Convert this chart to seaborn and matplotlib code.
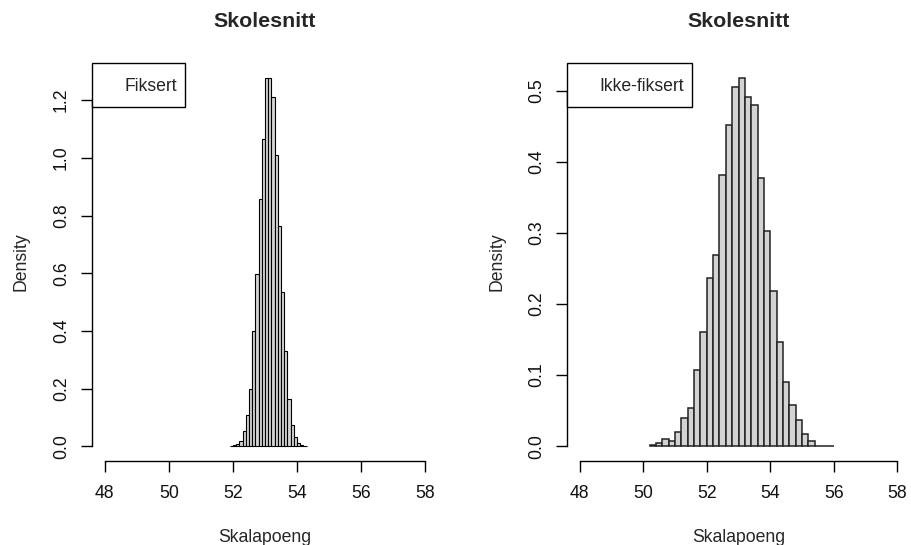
import numpy as np
import pandas as pd
import matplotlib
matplotlib.use("Agg")
import matplotlib.pyplot as plt
from matplotlib.patches import Patch
from matplotlib.ticker import FormatStrFormatter
import seaborn as sns

# ---- data ----
title = "Skolesnitt"
xlabel = "Skalapoeng"
ylabel = "Density"

# Left panel: "Fiksert", bins of width 0.1 from 51.9 to 54.3
left_label = "Fiksert"
left_edges = [51.9, 52.0, 52.1, 52.2, 52.3, 52.4, 52.5, 52.6, 52.7, 52.8, 52.9, 53.0,
              53.1, 53.2, 53.3, 53.4, 53.5, 53.6, 53.7, 53.8, 53.9, 54.0, 54.1, 54.2, 54.3]
left_density = [0.002, 0.004, 0.008, 0.019, 0.054, 0.107, 0.199, 0.398, 0.597, 0.856,
                 1.067, 1.278, 1.278, 1.210, 1.009, 0.763, 0.535, 0.332, 0.164, 0.074,
                 0.031, 0.013, 0.006, 0.002]
left_yticks = [0.0, 0.2, 0.4, 0.6, 0.8, 1.0, 1.2]

# Right panel: "Ikke-fiksert", bins of width 0.2 from 50.2 to 56.0
right_label = "Ikke-fiksert"
right_edges = [50.2, 50.4, 50.6, 50.8, 51.0, 51.2, 51.4, 51.6, 51.8, 52.0, 52.2, 52.4,
               52.6, 52.8, 53.0, 53.2, 53.4, 53.6, 53.8, 54.0, 54.2, 54.4, 54.6, 54.8,
               55.0, 55.2, 55.4, 55.6, 55.8, 56.0]
right_density = [0.002, 0.005, 0.010, 0.0075, 0.020, 0.040, 0.054, 0.107, 0.160, 0.236,
                  0.269, 0.381, 0.452, 0.505, 0.518, 0.491, 0.480, 0.377, 0.302, 0.218,
                  0.147, 0.091, 0.058, 0.037, 0.017, 0.0075, 0.001, 0.0, 0.001]
right_yticks = [0.0, 0.1, 0.2, 0.3, 0.4, 0.5]

xticks = [48, 50, 52, 54, 56, 58]

# ---- style ----
sns.set_style("ticks")
plt.rcParams["font.family"] = ["Liberation Sans", "DejaVu Sans"]
plt.rcParams["axes.linewidth"] = 1.0

FS = 12.7
W, H = 911, 545
fig = plt.figure(figsize=(W / 100, H / 100), dpi=100)


def px_axes(x0, y0, x1, y1):
    return fig.add_axes([x0 / W, 1 - y1 / H, (x1 - x0) / W, (y1 - y0) / H])


ax1 = px_axes(92, 63, 438, 461)
ax2 = px_axes(567, 63, 910, 461)


def draw(ax, edges, dens, yticks, label, lw, edgecolor):
    e = [float(v) for v in edges]
    centers = [(a + b) / 2 for a, b in zip(e[:-1], e[1:])]
    df = pd.DataFrame({"x": centers, "w": dens})
    sns.histplot(data=df, x="x", weights="w", bins=e, stat="count",
                 color="#D3D3D3", edgecolor=edgecolor, linewidth=lw,
                 alpha=1.0, ax=ax)
    ymax = max(dens)
    ax.set_xlim(48 - 0.4, 58 + 0.4)
    ax.set_ylim(-0.04 * ymax, ymax * 1.04)
    ax.set_xticks(xticks)
    ax.set_yticks(yticks)
    ax.yaxis.set_major_formatter(FormatStrFormatter("%.1f"))
    for s in ["top", "right"]:
        ax.spines[s].set_visible(False)
    ax.spines["left"].set_bounds(yticks[0], yticks[-1])
    ax.spines["bottom"].set_bounds(xticks[0], xticks[-1])
    ax.spines["left"].set_color("black")
    ax.spines["bottom"].set_color("black")
    ax.tick_params(axis="both", length=8, width=1, color="black",
                   labelsize=FS, labelcolor="#111111")
    ax.tick_params(axis="x", pad=9)
    ax.tick_params(axis="y", pad=8, labelrotation=90)
    for t in ax.get_yticklabels():
        t.set_va("center")
    ax.set_title(title, fontsize=15.4, fontweight="bold", pad=0, y=1.09)
    ax.set_xlabel(xlabel, fontsize=FS, va="center")
    ax.xaxis.set_label_coords(0.5, -0.191)
    ax.set_ylabel(ylabel, fontsize=FS, va="center")
    ax.yaxis.set_label_coords(-0.205, 0.5)
    leg = ax.legend(handles=[Patch(facecolor="none", edgecolor="none")],
                    labels=[label], loc="upper left", borderaxespad=0,
                    fancybox=False, framealpha=1, edgecolor="black",
                    fontsize=FS, handlelength=0.8, handletextpad=0.55,
                    handleheight=2.0, borderpad=0.47)
    leg.get_frame().set_linewidth(1.0)


draw(ax1, left_edges, left_density, left_yticks, left_label, 0.8, "black")
draw(ax2, right_edges, right_density, right_yticks, right_label, 1.1, "#222222")

fig.savefig("out.png", dpi=100)
